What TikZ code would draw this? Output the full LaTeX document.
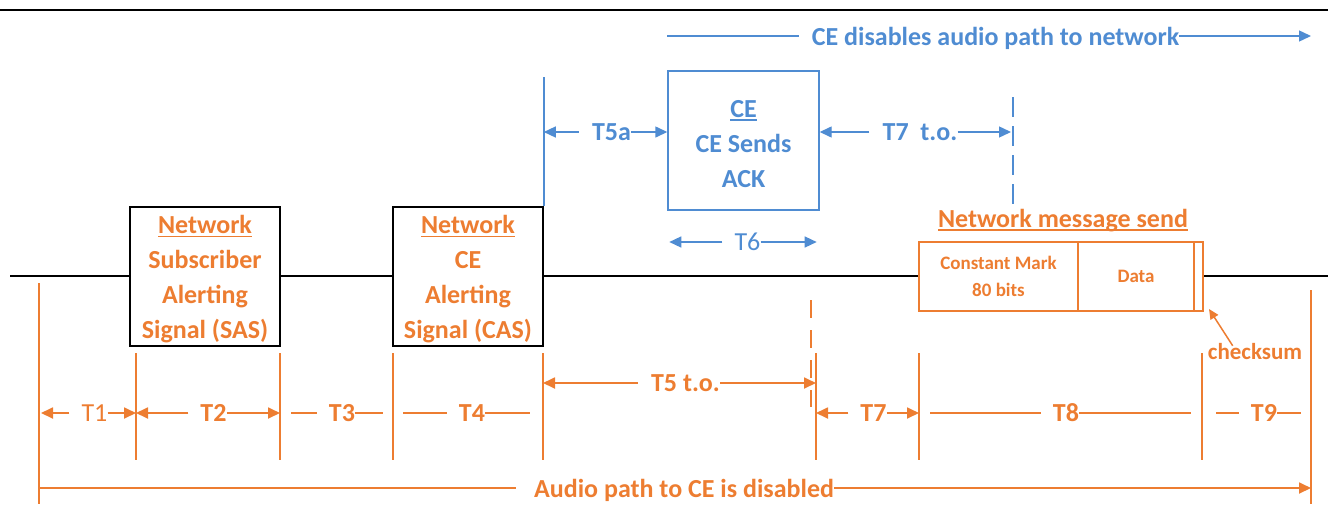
\documentclass[tikz,border=0pt]{standalone}
\usepackage{fontspec}
\setmainfont{Carlito}
\usetikzlibrary{arrows.meta, positioning}

\definecolor{netorange}{RGB}{237,125,49}
\definecolor{ceblue}{RGB}{79,140,210}

\newcommand{\ulword}[1]{\setbox0\hbox{#1}\rlap{\rule[-3.5pt]{\wd0}{1.6pt}}\box0}
\newcommand{\topstrut}{\rule{0pt}{24pt}}

\tikzset{
  sigbox/.style={draw=black, line width=1.6pt, fill=white, text=netorange,
    font=\bfseries\fontsize{26}{35}\selectfont, align=center,
    minimum width=150pt, minimum height=139pt, inner sep=0pt},
  cebox/.style={sigbox, draw=ceblue, line width=1.4pt, text=ceblue, minimum width=151pt},
  msgbox/.style={draw=netorange, line width=1.6pt, fill=white, text=netorange,
    font=\bfseries\fontsize{19}{27}\selectfont, align=center,
    minimum height=69pt, inner sep=0pt, outer sep=0pt},
  olab/.style={text=netorange, font=\bfseries\fontsize{26}{30}\selectfont,
    inner sep=0pt, text depth=0pt},
  blab/.style={olab, text=ceblue},
  oline/.style={draw=netorange, line width=1.8pt},
  oarr/.style={oline, -{Triangle[length=12pt, width=11pt]}},
  bline/.style={draw=ceblue, line width=1.4pt},
  barr/.style={bline, -{Triangle[length=12pt, width=11pt]}}
}

\begin{document}
\begin{tikzpicture}[x=1pt, y=-1pt]
\useasboundingbox (0,0) rectangle (1328,504);
\draw[line width=2.2pt] (0,10) -- (1328,10);
\draw[line width=1.5pt] (10,276) -- (1328,276);

% alerting signals from the network
\node[sigbox] (sas) at (205,276.5) {\topstrut\ulword{Network}\\Subscriber\\Alerting\\Signal (SAS)};
\node[sigbox] (cas) at (468,276.5) {\topstrut\ulword{Network}\\CE\\Alerting\\Signal (CAS)};

% CE acknowledgement
\node[cebox] (ce) at (743.5,140.5) {\topstrut\ulword{CE}\\CE Sends\\ACK};
\draw[bline] (cas.north east) -- ++(0,-129);
\coordinate (ackT) at (1013,97);
\coordinate (ackB) at (1013,205);
\draw[bline, dash pattern=on 20pt off 9pt] (ackT) -- (ackB);

\node[blab] (t5a) at (611.5,132) {T5a};
\draw[barr] ([xshift=-13pt]t5a.west) -- (cas.east |- t5a);
\draw[barr] (t5a.east) -- (ce.west |- t5a);

\node[blab] (t7to) at (920,132) {T7\ \ t.o.};
\draw[barr] ([xshift=-13pt]t7to.west) -- (ce.east |- t7to);
\draw[barr] (t7to.east) -- ([xshift=-2pt]ackT |- t7to);

\node[blab, font=\fontsize{26}{30}\selectfont] (t6) at (747.5,242) {T6};
\draw[barr] ([xshift=-12pt]t6.west) -- ([xshift=2pt]ce.west |- t6);
\draw[barr] (t6.east) -- ([xshift=-3pt]ce.east |- t6);

% timeline ticks
\coordinate (k0) at (39,413);
\coordinate (k8) at (1311,413);
\draw[oline] (39,283) -- (39,504);
\draw[oline] (1311,290) -- (1311,504);
\foreach \n/\x in {1/136, 2/280, 3/393, 4/543, 5/816, 6/919, 7/1202}
{
  \coordinate (k\n) at (\x,413);
  \draw[oline] (k\n) ++(0,-60) -- ++(0,107);
}
\draw[oline, dash pattern=on 18pt off 12pt] ([xshift=-5pt]k5) ++(0,-113) -- ++(0,107);

\node[blab] (cedis) at (995.5,36) {CE disables audio path to network};
\draw[bline] (ce.west |- cedis) -- ([xshift=-13pt]cedis.west);
\draw[barr] (cedis.east) -- (k8 |- cedis);

% network message
\node[olab] (msg) at (1063,218) {\ulword{Network message send}};
\node[msgbox, minimum width=159pt] (mark) at (998.5,276.5) {Constant Mark\\80 bits};
\node[msgbox, minimum width=116pt, right=0pt of mark] (data) {Data};
\node[msgbox, minimum width=9pt, right=0pt of data] (sum) {};
\node[olab, font=\bfseries\fontsize{23}{26}\selectfont] (cks) at (1255,351) {checksum};
\draw[oline, line width=1.5pt, -{Triangle[length=10pt, width=9pt]}]
  ([xshift=25pt,yshift=-3pt]cks.north west) -- ([xshift=6pt,yshift=2pt]sum.south east);

% time intervals
\node[olab, font=\fontsize{26}{30}\selectfont] (t1) at (94.5,413) {T1};
\draw[oarr] ([xshift=-12pt]t1.west) -- ([xshift=2pt]k0);
\draw[oarr] (t1.east) -- (k1);

\node[olab] (t2) at (213.5,413) {T2};
\draw[oarr] ([xshift=-12pt]t2.west) -- (k1);
\draw[oarr] (t2.east) -- (k2);

\node[olab] (t3) at (342,413) {T3};
\draw[oline] ([xshift=-12pt]t3.west) -- ([xshift=11pt]k2);
\draw[oline] (t3.east) -- ([xshift=-10pt]k3);

\node[olab] (t4) at (472,413) {T4};
\draw[oline] ([xshift=-12pt]t4.west) -- ([xshift=10pt]k3);
\draw[oline] (t4.east) -- ([xshift=-13pt]k4);

\node[olab] (t5) at (685.5,383) {T5 t.o.};
\draw[oarr] ([xshift=-13pt]t5.west) -- (k4 |- t5);
\draw[oarr] (t5.east) -- (k5 |- t5);

\node[olab] (t7) at (873.5,413) {T7};
\draw[oarr] ([xshift=-12pt]t7.west) -- (k5);
\draw[oarr] (t7.east) -- (k6);

\node[olab] (t8) at (1066,413) {T8};
\draw[oline] ([xshift=-12pt]t8.west) -- ([xshift=11pt]k6);
\draw[oline] (t8.east) -- ([xshift=-11pt]k7);

\node[olab] (t9) at (1264,413) {T9};
\draw[oline] ([xshift=-12pt]t9.west) -- ([xshift=14pt]k7);
\draw[oline] (t9.east) -- ([xshift=-10pt]k8);

\node[olab] (audio) at (684,488) {Audio path to CE is disabled};
\draw[oline] (k0 |- audio) -- ([xshift=-18pt]audio.west);
\draw[oarr] (audio.east) -- (k8 |- audio);
\end{tikzpicture}
\end{document}
